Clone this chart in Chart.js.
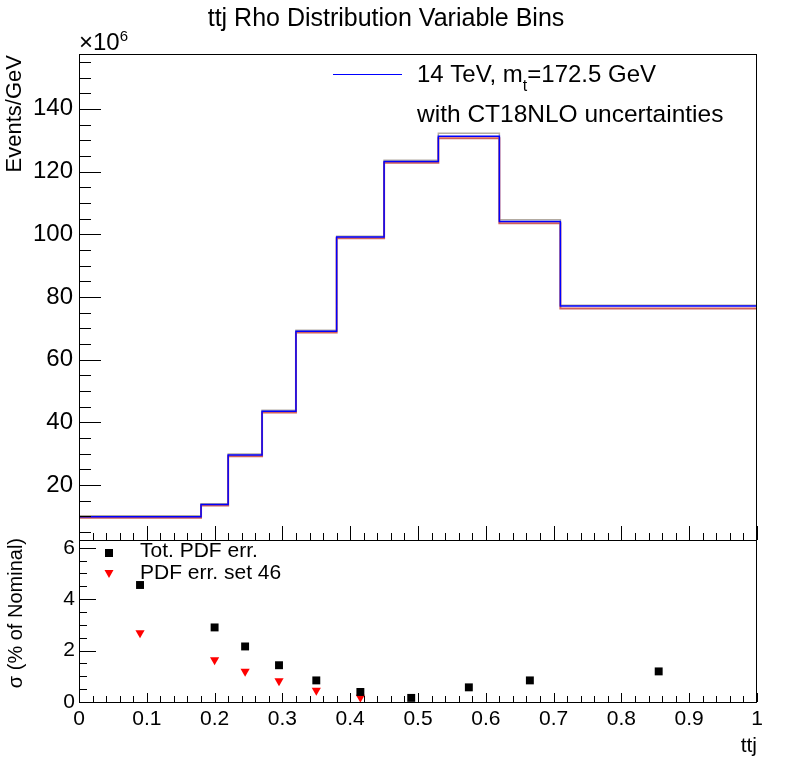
<!DOCTYPE html>
<html>
<head>
<meta charset="utf-8">
<script src="https://cdn.jsdelivr.net/npm/chart.js@4.4.1/dist/chart.umd.min.js"></script>
<style>
  html, body { margin: 0; padding: 0; background: #fff; }
  #wrap { position: relative; width: 796px; height: 772px; }
  #wrap canvas { position: absolute; left: 0; top: 0; }
</style>
</head>
<body>
<div id="wrap">
  <canvas id="mainPad" width="796" height="772"></canvas>
  <canvas id="ratioPad" width="796" height="772"></canvas>
</div>
<script>
// bin edges in ttj rho, and the histogram contents (x10^6 events/GeV)
var binEdges = [0, 0.18, 0.22, 0.27, 0.32, 0.38, 0.45, 0.53, 0.62, 0.71, 1.0];
var nominal  = [9.9, 13.8, 29.6, 43.6, 69.1, 99.1, 123.2, 131.3, 104.1, 77.1];
var pdfUp    = [10.2, 14.1, 29.9, 43.9, 69.4, 99.4, 123.6, 132.2, 104.6, 77.4];
var pdfDown  = [9.6, 13.5, 29.2, 43.2, 68.7, 98.7, 122.8, 130.6, 103.5, 76.3];

// relative uncertainty in % of nominal (lower pad)
var totPdfErr = [4.55, 2.90, 2.16, 1.43, 0.84, 0.39, 0.16, 0.57, 0.84, 1.19];
var set46Err  = [2.69, 1.64, 1.19, 0.82, 0.45, 0.18, null, null, null, null];

var xTickLabels = ['0', '0.1', '0.2', '0.3', '0.4', '0.5', '0.6', '0.7', '0.8', '0.9', '1'];

var FONT = '"Liberation Sans", Arial, Helvetica, sans-serif';

function histPoints(vals) {
  var pts = vals.map(function (v, i) { return { x: binEdges[i], y: v }; });
  pts.push({ x: binEdges[binEdges.length - 1], y: vals[vals.length - 1] });
  return pts;
}
var binCenters = binEdges.slice(0, -1).map(function (e, i) { return (e + binEdges[i + 1]) / 2; });

function range(a, b, step) {
  var out = [];
  for (var v = a; v <= b + 1e-9; v += step) out.push(Math.round(v * 1000) / 1000);
  return out;
}

function drawRuns(ctx, runs, x, y) {
  runs.forEach(function (r) {
    ctx.font = r.font;
    ctx.fillText(r.t, x, y + (r.dy || 0));
    x += ctx.measureText(r.t).width;
  });
}

// ROOT-like frame, inward tick marks and free text
var rootPad = {
  id: 'rootPad',
  afterDraw: function (chart, args, o) {
    var ctx = chart.ctx, a = chart.chartArea, sx = chart.scales.x, sy = chart.scales.y;
    ctx.save();
    ctx.strokeStyle = '#000';
    ctx.lineWidth = 1;
    ctx.beginPath();
    o.yMajor.forEach(function (v) {
      var p = Math.round(sy.getPixelForValue(v)) + 0.5;
      ctx.moveTo(a.left, p); ctx.lineTo(a.left + o.yMajorLen, p);
    });
    o.yMinor.forEach(function (v) {
      var p = Math.round(sy.getPixelForValue(v)) + 0.5;
      ctx.moveTo(a.left, p); ctx.lineTo(a.left + o.yMinorLen, p);
    });
    o.xMajor.forEach(function (v) {
      var p = Math.round(sx.getPixelForValue(v)) + 0.5;
      ctx.moveTo(p, a.bottom); ctx.lineTo(p, a.bottom - o.xMajorLen);
    });
    o.xMinor.forEach(function (v) {
      var p = Math.round(sx.getPixelForValue(v)) + 0.5;
      ctx.moveTo(p, a.bottom); ctx.lineTo(p, a.bottom - o.xMinorLen);
    });
    ctx.stroke();
    ctx.strokeRect(Math.round(a.left) + 0.5, Math.round(a.top) + 0.5,
                   Math.round(a.right - a.left) - 1, Math.round(a.bottom - a.top));
    ctx.fillStyle = '#000';
    ctx.textBaseline = 'alphabetic';
    (o.texts || []).forEach(function (t) {
      ctx.save();
      ctx.translate(t.x, t.y);
      if (t.rotate) ctx.rotate(t.rotate);
      ctx.textAlign = t.align || 'left';
      if (t.runs) drawRuns(ctx, t.runs, 0, 0);
      else { ctx.font = t.font; ctx.fillText(t.text, 0, 0); }
      ctx.restore();
    });
    if (o.extra) o.extra(ctx, chart);
    ctx.restore();
  }
};

Chart.register(rootPad);

new Chart(document.getElementById('mainPad'), {
  type: 'line',
  data: {
    datasets: [
      { label: 'nominal', data: histPoints(nominal), stepped: 'before',
        borderColor: '#0000ff', borderWidth: 1.5, pointRadius: 0, fill: false },
      { label: 'pdf down', data: histPoints(pdfDown), stepped: 'before',
        borderColor: '#d0605a', borderWidth: 2, pointRadius: 0, fill: false },
      { label: 'pdf up', data: histPoints(pdfUp), stepped: 'before',
        borderColor: '#b3aba1', borderWidth: 1.5, pointRadius: 0, fill: false }
    ]
  },
  options: {
    responsive: false,
    animation: false,
    devicePixelRatio: 1,
    events: [],
    layout: { padding: { top: 54, left: 0, right: 39, bottom: 232 } },
    scales: {
      x: { type: 'linear', min: 0, max: 1, display: false },
      y: {
        type: 'linear', min: 2.5, max: 157.5,
        grid: { display: false, drawTicks: false }, border: { display: false },
        ticks: { stepSize: 20, includeBounds: false, padding: 6, color: '#000',
                 font: { family: FONT, size: 24 } },
        afterFit: function (s) { s.width = 79; }
      }
    },
    plugins: {
      legend: { display: false },
      tooltip: { enabled: false },
      rootPad: {
        yMajor: range(20, 140, 20), yMinor: range(5, 155, 5),
        yMajorLen: 22, yMinorLen: 12,
        xMajor: range(0, 1, 0.1), xMinor: range(0, 1, 0.02),
        xMajorLen: 14, xMinorLen: 7,
        texts: [
          { text: 'ttj Rho Distribution Variable Bins', x: 386, y: 26, align: 'center', font: '25px ' + FONT },
          { runs: [ { t: '\u00d710', font: '24px ' + FONT }, { t: '6', font: '15px ' + FONT, dy: -9 } ], x: 79, y: 50 },
          { text: 'Events/GeV', x: 21, y: 55, align: 'right', rotate: -Math.PI / 2, font: '22px ' + FONT },
          { runs: [ { t: '14 TeV, m', font: '24px ' + FONT }, { t: 't', font: '16px ' + FONT, dy: 9 },
                    { t: '=172.5 GeV', font: '24px ' + FONT } ], x: 417, y: 82 },
          { text: 'with CT18NLO uncertainties', x: 417, y: 122, font: '24.5px ' + FONT }
        ],
        extra: function (ctx) {
          ctx.strokeStyle = '#0000ff';
          ctx.lineWidth = 1;
          ctx.beginPath(); ctx.moveTo(333, 74.5); ctx.lineTo(402, 74.5); ctx.stroke();
        }
      }
    }
  }
});

new Chart(document.getElementById('ratioPad'), {
  type: 'scatter',
  data: {
    datasets: [
      { label: 'Tot. PDF err.', data: binCenters.map(function (c, i) { return { x: c, y: totPdfErr[i] }; }),
        pointStyle: 'rect', pointRadius: 5.6, backgroundColor: '#000', borderWidth: 0 },
      { label: 'PDF err. set 46', data: binCenters.map(function (c, i) { return { x: c, y: set46Err[i] }; }),
        pointStyle: 'triangle', rotation: 180, pointRadius: 5.3, backgroundColor: '#ff0000', borderWidth: 0 }
    ]
  },
  options: {
    responsive: false,
    animation: false,
    devicePixelRatio: 1,
    events: [],
    layout: { padding: { top: 540, left: 0, right: 39, bottom: 0 } },
    scales: {
      x: {
        type: 'linear', min: 0, max: 1,
        grid: { display: false, drawTicks: false }, border: { display: false },
        ticks: { stepSize: 0.1, padding: 5, color: '#000', maxRotation: 0, autoSkip: false,
                 font: { family: FONT, size: 21 },
                 callback: function (v) { return xTickLabels[Math.round(v * 10)]; } },
        afterFit: function (s) { s.height = 70; }
      },
      y: {
        type: 'linear', min: 0, max: 6.3,
        grid: { display: false, drawTicks: false }, border: { display: false },
        ticks: { stepSize: 2, includeBounds: false, padding: 4, color: '#000',
                 font: { family: FONT, size: 21 } },
        afterFit: function (s) { s.width = 79; }
      }
    },
    plugins: {
      legend: { display: false },
      tooltip: { enabled: false },
      rootPad: {
        yMajor: range(0, 6, 2), yMinor: range(0, 6, 0.5),
        yMajorLen: 17, yMinorLen: 8,
        xMajor: range(0, 1, 0.1), xMinor: range(0, 1, 0.02),
        xMajorLen: 9, xMinorLen: 6,
        texts: [
          { text: '\u03c3 (% of Nominal)', x: 22, y: 538, align: 'right', rotate: -Math.PI / 2, font: '20px ' + FONT },
          { text: 'ttj', x: 757, y: 752, align: 'right', font: '21px ' + FONT },
          { text: 'Tot. PDF err.', x: 140, y: 557, font: '21px ' + FONT },
          { text: 'PDF err. set 46', x: 140, y: 579, font: '21px ' + FONT }
        ],
        extra: function (ctx) {
          ctx.fillStyle = '#000';
          ctx.fillRect(105, 549, 8, 8);
          ctx.fillStyle = '#ff0000';
          ctx.beginPath(); ctx.moveTo(104.5, 570); ctx.lineTo(113.5, 570); ctx.lineTo(109, 578); ctx.closePath(); ctx.fill();
        }
      }
    }
  }
});
</script>
</body>
</html>
